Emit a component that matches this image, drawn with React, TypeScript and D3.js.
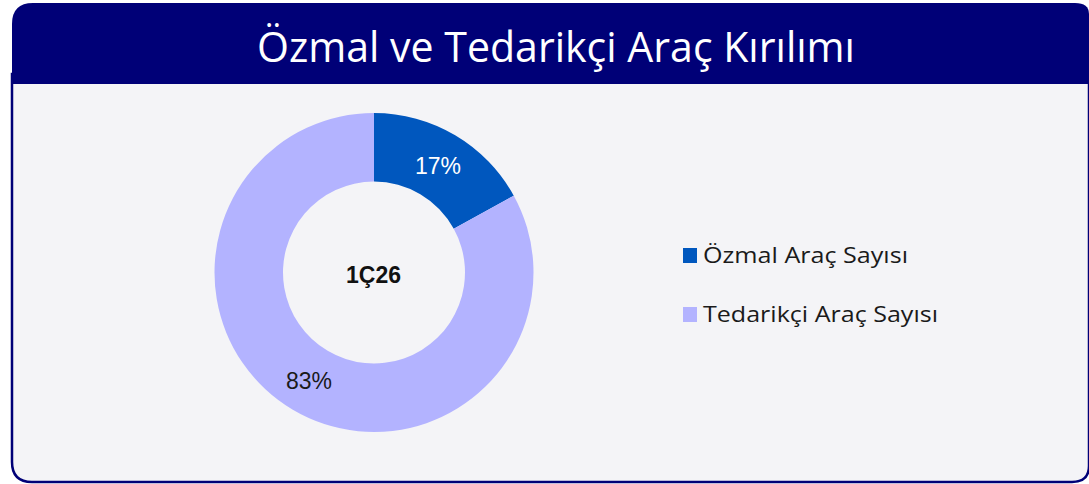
import React from "react";
import * as d3 from "d3";

const categories = ["Özmal Araç Sayısı", "Tedarikçi Araç Sayısı"];
const values = [17, 83];
const colors = ["#0057BE", "#B3B3FF"];
const labelColors = ["#FFFFFF", "#1A1A1A"];
const title = "Özmal ve Tedarikçi Araç Kırılımı";
const centerLabel = "1Ç26";

export default function App() {
  const W = 1089, H = 484;
  const cx = 374, cy = 272.5, rOuter = 159.5, rInner = 91;
  const pie = d3.pie<number>().sort(null).value((d) => d)(values);
  const arc = d3.arc<d3.PieArcDatum<number>>().innerRadius(rInner).outerRadius(rOuter);
  const font = "'Open Sans', 'Noto Sans', sans-serif";
  const arial = "'Liberation Sans', Arial, sans-serif";
  const legendWidths = [205, 235];
  return (
    <svg width={W} height={H} style={{ position: "absolute", left: 0, top: 0 }}>
      <rect x={0} y={0} width={W} height={H} fill="#FFFFFF" />
      <path
        d={`M12,74 L12,462 Q12,482 32,482 L1072,482 Q1089,482 1089,466 L1089,74 Z`}
        fill="#F4F4F7"
        stroke="#000077"
        strokeWidth={2.5}
      />
      <path
        d={`M12,84 L12,24 Q12,3 33,3 L1075,3 Q1089,3 1089,14 L1089,84 Z`}
        fill="#000077"
      />
      <text x={257} y={62} fill="#FFFFFF" fontFamily={font} fontSize={42} textLength={598} lengthAdjust="spacingAndGlyphs">
        {title}
      </text>
      <g transform={`translate(${cx},${cy})`}>
        {pie.map((d, i) => (
          <path key={i} d={arc(d) || ""} fill={colors[i]} />
        ))}
        <text x={64} y={-98.5} textAnchor="middle" fill={labelColors[0]} fontFamily={arial} fontSize={23}>
          {values[0]}%
        </text>
        <text x={-65} y={116} textAnchor="middle" fill={labelColors[1]} fontFamily={arial} fontSize={23}>
          {values[1]}%
        </text>
        <text x={-0.5} y={10} textAnchor="middle" fill="#111" fontFamily={arial} fontSize={23} fontWeight="bold">
          {centerLabel}
        </text>
      </g>
      {categories.map((c, i) => (
        <g key={c} transform={`translate(683,${248 + i * 59})`}>
          <rect x={0} y={0} width={14} height={15} fill={colors[i]} />
          <text x={20} y={15} fill="#1A1A1A" fontFamily={font} fontSize={22} textLength={legendWidths[i]} lengthAdjust="spacingAndGlyphs">
            {c}
          </text>
        </g>
      ))}
    </svg>
  );
}
